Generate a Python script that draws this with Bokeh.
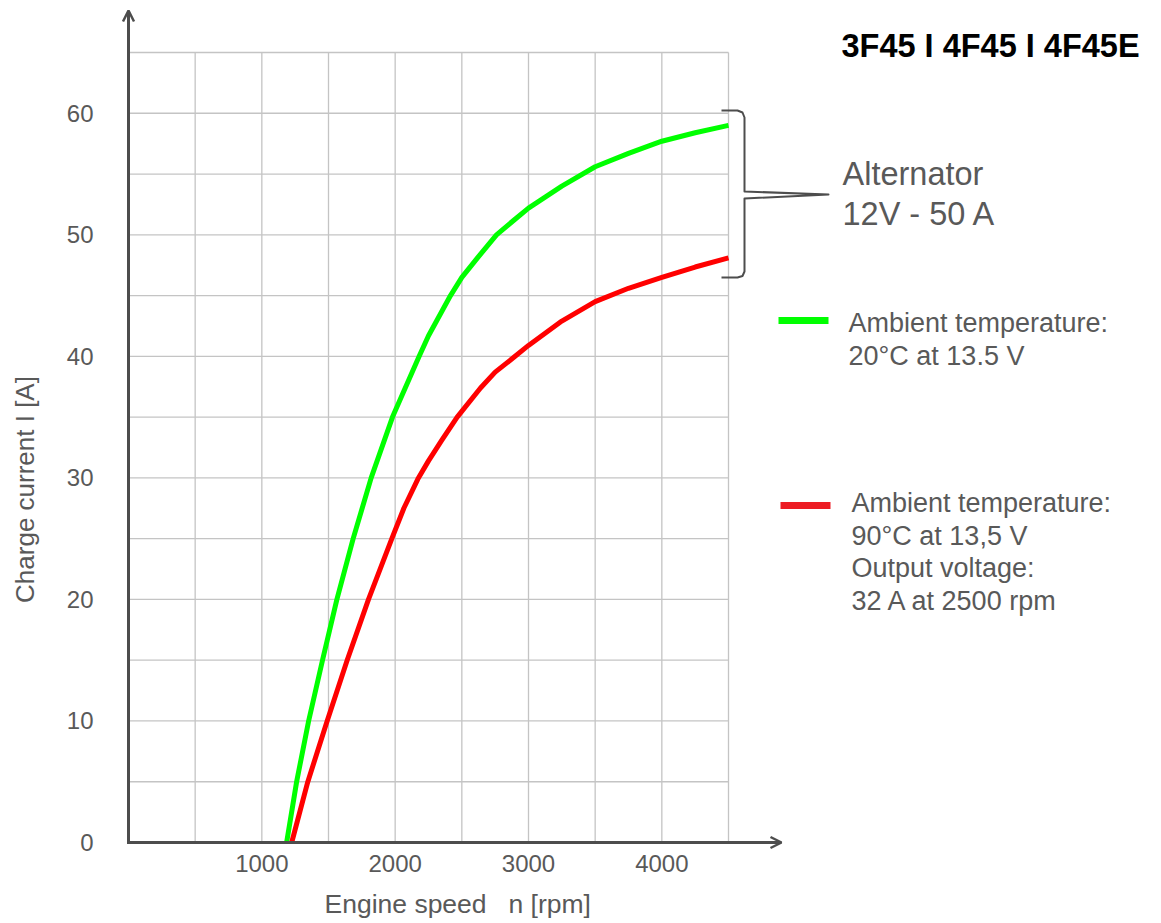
import numpy as np
from bokeh.plotting import figure
from bokeh.models import Range1d, Label, Arrow, OpenHead
from bokeh.core.properties import value
from bokeh.embed import file_html
from bokeh.resources import INLINE

# ---------------- data ----------------
rpm_ticks = [1000, 2000, 3000, 4000]
amp_ticks = [0, 10, 20, 30, 40, 50, 60]

green_rpm = [1186, 1261, 1351, 1455, 1563, 1685, 1820, 1980, 2180, 2250, 2415,
             2500, 2625, 2760, 2890, 3000, 3250, 3500, 3750, 4000, 4250, 4500]
green_amp = [0, 5, 10, 15, 20, 25, 30, 35, 40, 41.7, 45,
             46.5, 48.2, 50, 51.2, 52.2, 54.0, 55.6, 56.7, 57.7, 58.4, 59.0]

red_rpm = [1224, 1345, 1490, 1640, 1800, 1975, 2065, 2170, 2250, 2350, 2465,
           2640, 2750, 2888, 3000, 3250, 3500, 3750, 4000, 4250, 4500]
red_amp = [0, 5, 10, 15, 20, 25, 27.5, 29.9, 31.4, 33.1, 35,
           37.4, 38.7, 39.9, 40.9, 42.9, 44.5, 45.6, 46.5, 47.35, 48.1]

title_text = "3F45 I 4F45 I 4F45E"
alt_lines = ["Alternator", "12V - 50 A"]
green_lines = ["Ambient temperature:", "20°C at 13.5 V"]
red_lines = ["Ambient temperature:", "90°C at 13,5 V", "Output voltage:", "32 A at 2500 rpm"]
x_label_parts = ["Engine speed", "n [rpm]"]
y_label = "Charge current I [A]"

grid_rpm_max = 4500
grid_amp_max = 65
grid_rpm_step = 500
grid_amp_step = 5

# ---------------- layout ----------------
W, H = 1158, 920
ORIGIN_PX = (128, 842)          # page pixel of (0 rpm, 0 A)
PX_PER_RPM = 600 / 4500
PX_PER_A = 790 / 65


def X(px):  # page pixel -> rpm
    return (px - ORIGIN_PX[0]) / PX_PER_RPM


def Y(py):  # page pixel -> ampere
    return (ORIGIN_PX[1] - py) / PX_PER_A


TXT = "#595959"
AX = "#4d4d4d"
GRID = "#c4c4c4"
FONT = "Liberation Sans"

p = figure(width=W, height=H, x_range=Range1d(X(0), X(W)), y_range=Range1d(Y(H), Y(0)),
           output_backend="svg", toolbar_location=None,
           x_axis_location=None, y_axis_location=None,
           min_border=0, outline_line_color=None)
p.xgrid.grid_line_color = None
p.ygrid.grid_line_color = None

# grid
gx = np.arange(grid_rpm_step, grid_rpm_max + 1, grid_rpm_step)
gy = np.arange(grid_amp_step, grid_amp_max + 1, grid_amp_step)
p.segment(x0=gx, y0=0, x1=gx, y1=grid_amp_max, line_color=GRID, line_width=1.3)
p.segment(x0=0, y0=gy, x1=grid_rpm_max, y1=gy, line_color=GRID, line_width=1.3)

# tick labels
p.text(x=rpm_ticks, y=Y(863), text=[str(t) for t in rpm_ticks],
       text_font=value(FONT), text_font_size="24px", text_color=TXT,
       text_align="center", text_baseline="middle")
p.text(x=X(93), y=amp_ticks, text=[str(t) for t in amp_ticks],
       text_font=value(FONT), text_font_size="24px", text_color=TXT,
       text_align="right", text_baseline="middle")

# axes with arrows
p.add_layout(Arrow(end=OpenHead(size=11, line_width=2.5, line_color=AX),
                   x_start=X(126.5), y_start=0, x_end=X(781), y_end=0,
                   line_width=3, line_color=AX))
p.add_layout(Arrow(end=OpenHead(size=11, line_width=2.5, line_color=AX),
                   x_start=0, y_start=Y(843.5), x_end=0, y_end=Y(10),
                   line_width=3, line_color=AX))

# curves
p.line(green_rpm, green_amp, line_width=5, line_color="#00ff00", line_join="round")
p.line(red_rpm, red_amp, line_width=5, line_color="#ff0000", line_join="round")

# bracket
br = [(721, 110), (737, 110), (742, 112), (744, 117), (744, 191), (828, 194),
      (744, 198), (744, 271), (742, 275.5), (737, 277), (721, 277)]
p.line([X(a) for a, b in br], [Y(b) for a, b in br], line_width=2, line_color=AX,
       line_join="round")

# legend keys
p.segment(x0=X(778), y0=Y(320), x1=X(828), y1=Y(320), line_width=7, line_color="#00ff00")
p.segment(x0=X(780), y0=Y(505), x1=X(830), y1=Y(505), line_width=7, line_color="#ed1c24")


def add_text(text, px, py, size, color=TXT, bold=False, angle=0, align="left"):
    # py is the wanted baseline; bokeh draws the label slightly lower
    shift = 0.3 * size
    if angle:
        px, py = px - shift, py
    else:
        py = py - shift
    p.add_layout(Label(x=X(px), y=Y(py), text=text, text_font=FONT,
                       text_font_size=f"{size}px", text_color=color,
                       text_font_style="bold" if bold else "normal",
                       angle=angle, text_align=align, text_baseline="alphabetic"))


add_text(title_text, 841, 55, 32.5, color="#000000", bold=True)
for i, t in enumerate(alt_lines):
    add_text(t, 842, 183 + 40 * i, 32.5)
for i, t in enumerate(green_lines):
    add_text(t, 848, 331 + 33 * i, 27)
for i, t in enumerate(red_lines):
    add_text(t, 851, 511 + 32.5 * i, 27)
add_text(x_label_parts[0], 324, 911, 26.5)
add_text(x_label_parts[1], 508, 911, 26.5)
add_text(y_label, 32, 489, 26, angle=np.pi / 2, align="center")

open("out.html", "w").write(file_html(p, INLINE))
